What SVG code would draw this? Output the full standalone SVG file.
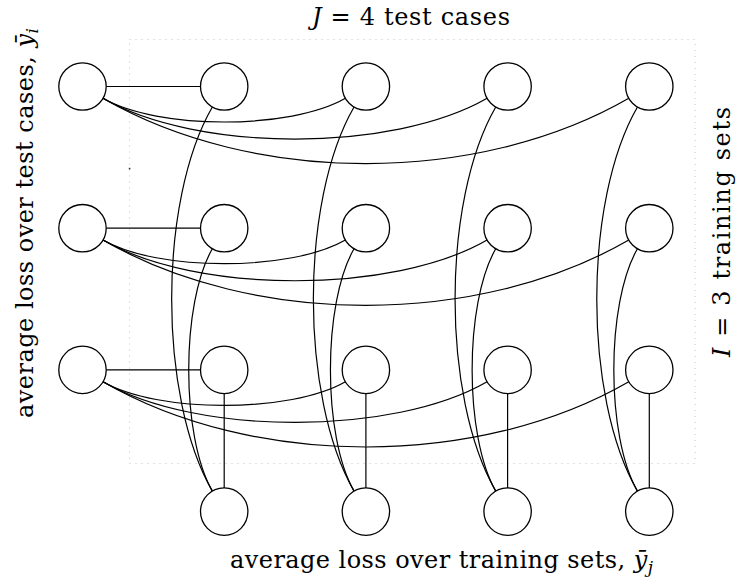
<svg xmlns="http://www.w3.org/2000/svg" width="741" height="581" viewBox="0 0 741 581">
  <style>
    .node { fill: #ffffff; stroke: #000000; stroke-width: 1.3; }
    .edge { fill: none; stroke: #000000; stroke-width: 1.2; }
    .frame { fill: none; stroke: #c4c4c4; stroke-width: 1; stroke-dasharray: 1 5; }
  </style>

  <rect width="741" height="581" fill="#ffffff"/>

  <!-- dotted frame around the grid of cases -->
  <g id="frame">
    <rect class="frame" x="129.5" y="39.5" width="565.5" height="424"/>
    <rect x="128.8" y="167.8" width="1.6" height="1.6" fill="#333333"/>
  </g>

  <!-- connectors: row sums to the left, column sums below -->
  <g id="connectors">
    <!-- row 0 -->
    <path class="edge" d="M106.2,86.5 H200.5"/>
    <path class="edge" d="M103.02,98.35 C157.58,129.85 290.82,129.85 345.38,98.35"/>
    <path class="edge" d="M103.02,98.35 C196.98,152.6 393.12,152.6 487.08,98.35"/>
    <path class="edge" d="M103.02,98.35 C253.71,185.35 478.09,185.35 628.78,98.35"/>
    <!-- row 1 -->
    <path class="edge" d="M106.2,228.2 H200.5"/>
    <path class="edge" d="M103.02,240.05 C157.58,271.55 290.82,271.55 345.38,240.05"/>
    <path class="edge" d="M103.02,240.05 C196.98,294.3 393.12,294.3 487.08,240.05"/>
    <path class="edge" d="M103.02,240.05 C253.71,327.05 478.09,327.05 628.78,240.05"/>
    <!-- row 2 -->
    <path class="edge" d="M106.2,369.9 H200.5"/>
    <path class="edge" d="M103.02,381.75 C157.58,413.25 290.82,413.25 345.38,381.75"/>
    <path class="edge" d="M103.02,381.75 C196.98,436 393.12,436 487.08,381.75"/>
    <path class="edge" d="M103.02,381.75 C253.71,468.75 478.09,468.75 628.78,381.75"/>
    <!-- column 1 -->
    <path class="edge" d="M224.2,487.9 V393.6"/>
    <path class="edge" d="M212.35,491.08 C180.85,436.52 180.85,303.28 212.35,248.72"/>
    <path class="edge" d="M212.35,491.08 C158.1,397.12 158.1,200.98 212.35,107.02"/>
    <!-- column 2 -->
    <path class="edge" d="M365.9,487.9 V393.6"/>
    <path class="edge" d="M354.05,491.08 C322.55,436.52 322.55,303.28 354.05,248.72"/>
    <path class="edge" d="M354.05,491.08 C299.8,397.12 299.8,200.98 354.05,107.02"/>
    <!-- column 3 -->
    <path class="edge" d="M507.6,487.9 V393.6"/>
    <path class="edge" d="M495.75,491.08 C464.25,436.52 464.25,303.28 495.75,248.72"/>
    <path class="edge" d="M495.75,491.08 C441.5,397.12 441.5,200.98 495.75,107.02"/>
    <!-- column 4 -->
    <path class="edge" d="M649.3,487.9 V393.6"/>
    <path class="edge" d="M637.45,491.08 C605.95,436.52 605.95,303.28 637.45,248.72"/>
    <path class="edge" d="M637.45,491.08 C583.2,397.12 583.2,200.98 637.45,107.02"/>
  </g>

  <!-- row 0 -->
  <g id="n-0-0"><circle class="node" cx="82.5" cy="86.5" r="23.7"/></g>
  <g id="n-0-1"><circle class="node" cx="224.2" cy="86.5" r="23.7"/></g>
  <g id="n-0-2"><circle class="node" cx="365.9" cy="86.5" r="23.7"/></g>
  <g id="n-0-3"><circle class="node" cx="507.6" cy="86.5" r="23.7"/></g>
  <g id="n-0-4"><circle class="node" cx="649.3" cy="86.5" r="23.7"/></g>
  <!-- row 1 -->
  <g id="n-1-0"><circle class="node" cx="82.5" cy="228.2" r="23.7"/></g>
  <g id="n-1-1"><circle class="node" cx="224.2" cy="228.2" r="23.7"/></g>
  <g id="n-1-2"><circle class="node" cx="365.9" cy="228.2" r="23.7"/></g>
  <g id="n-1-3"><circle class="node" cx="507.6" cy="228.2" r="23.7"/></g>
  <g id="n-1-4"><circle class="node" cx="649.3" cy="228.2" r="23.7"/></g>
  <!-- row 2 -->
  <g id="n-2-0"><circle class="node" cx="82.5" cy="369.9" r="23.7"/></g>
  <g id="n-2-1"><circle class="node" cx="224.2" cy="369.9" r="23.7"/></g>
  <g id="n-2-2"><circle class="node" cx="365.9" cy="369.9" r="23.7"/></g>
  <g id="n-2-3"><circle class="node" cx="507.6" cy="369.9" r="23.7"/></g>
  <g id="n-2-4"><circle class="node" cx="649.3" cy="369.9" r="23.7"/></g>
  <!-- column averages -->
  <g id="n-3-1"><circle class="node" cx="224.2" cy="511.6" r="23.7"/></g>
  <g id="n-3-2"><circle class="node" cx="365.9" cy="511.6" r="23.7"/></g>
  <g id="n-3-3"><circle class="node" cx="507.6" cy="511.6" r="23.7"/></g>
  <g id="n-3-4"><circle class="node" cx="649.3" cy="511.6" r="23.7"/></g>

  <!-- axis labels -->
  <g id="labels" font-family="DejaVu Serif, Liberation Serif, serif" font-size="24" fill="#000000">
    <text x="411" y="25" text-anchor="middle" textLength="198" lengthAdjust="spacing"><tspan font-style="italic">J</tspan> = 4 test cases</text>
    <text x="441.5" y="568" text-anchor="middle" textLength="423" lengthAdjust="spacing">average loss over training sets, <tspan font-style="italic">ȳ</tspan><tspan font-style="italic" font-size="17" dy="5">j</tspan></text>
    <text transform="translate(33,223) rotate(-90)" text-anchor="middle" textLength="390" lengthAdjust="spacing">average loss over test cases, <tspan font-style="italic">ȳ</tspan><tspan font-style="italic" font-size="17" dy="5">i</tspan></text>
    <text transform="translate(730,232) rotate(-90)" text-anchor="middle" textLength="250" lengthAdjust="spacing"><tspan font-style="italic">I</tspan> = 3 training sets</text>
  </g>
</svg>
